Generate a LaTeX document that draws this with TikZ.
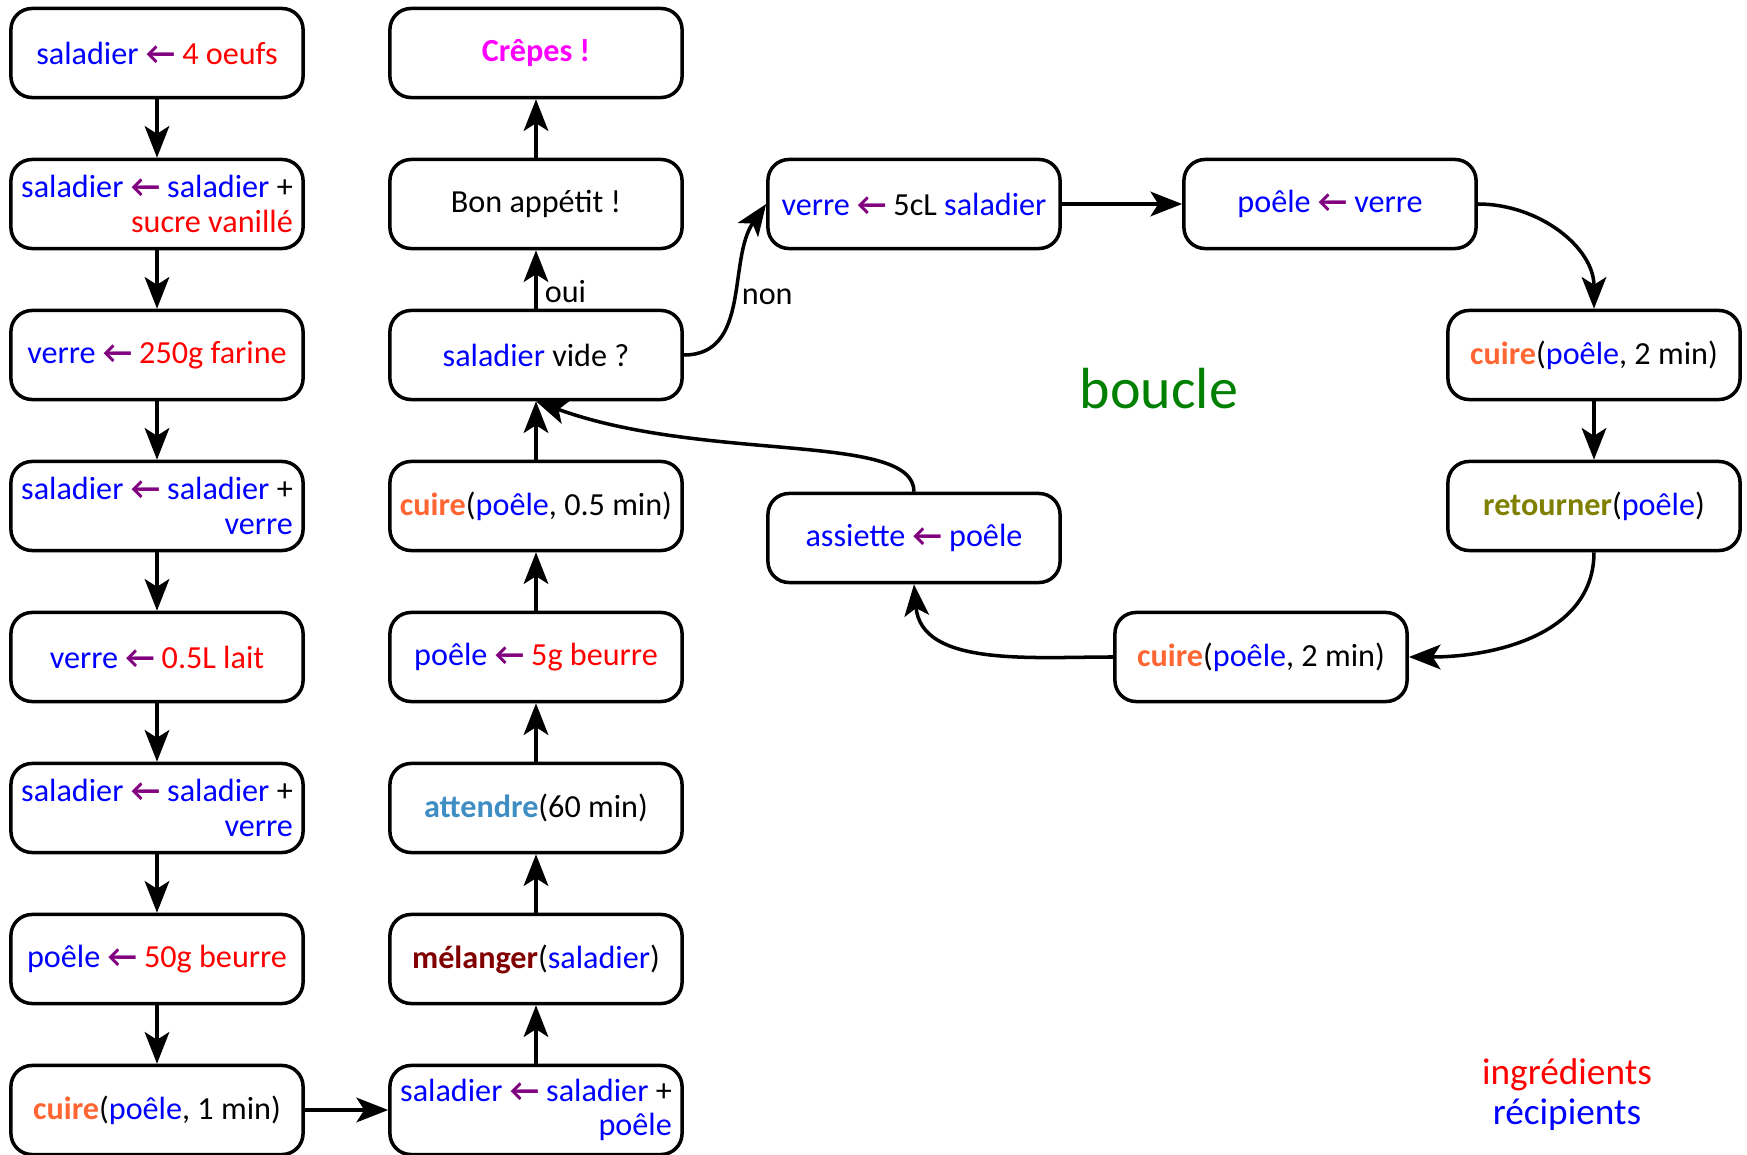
\documentclass[tikz,border=0pt]{standalone}
\usepackage{fontspec}
\setmainfont{Carlito}
\usepackage{xcolor}
\usetikzlibrary{arrows.meta}

\definecolor{recip}{RGB}{0,0,255}
\definecolor{ingr}{RGB}{255,0,0}
\definecolor{violet}{RGB}{128,0,128}
\definecolor{orangecuire}{RGB}{255,102,51}
\definecolor{bleuattendre}{RGB}{62,142,196}
\definecolor{rougemelanger}{RGB}{128,0,0}
\definecolor{olive}{RGB}{128,128,0}
\definecolor{vertboucle}{RGB}{0,128,0}
\definecolor{rosecrepes}{RGB}{255,0,255}

\newcommand{\recip}[1]{\textcolor{recip}{#1}}
\newcommand{\ingr}[1]{\textcolor{ingr}{#1}}
\newcommand{\fl}{\textcolor{violet}{\textbf{←}}}
\newcommand{\cuire}{\textcolor{orangecuire}{\textbf{cuire}}}

\tikzset{
  boite/.style={draw, line width=1pt, rounded corners=6pt, minimum width=2.92cm,
    minimum height=0.89cm, align=right, inner sep=2pt},
  fleche/.style={-{Stealth[length=9pt,width=7pt,inset=2.2pt]}, line width=1pt}
}

\begin{document}
\begin{tikzpicture}[x=0.01cm, y=0.01cm, font=\fontsize{9.15}{9.8}\selectfont]
          \useasboundingbox (0,0) rectangle (1747,-1155);

          % premiere colonne
          \node[boite] (a1) at (157,-53) {\recip{saladier} \fl{} \ingr{4 oeufs}};
          \node[boite] (a2) at (157,-204) {\recip{saladier} \fl{} \recip{saladier} +\\\ingr{sucre vanillé}};
          \node[boite] (a3) at (157,-355) {\recip{verre} \fl{} \ingr{250g farine}};
          \node[boite] (a4) at (157,-506) {\recip{saladier} \fl{} \recip{saladier} +\\\recip{verre}};
          \node[boite] (a5) at (157,-657) {\recip{verre} \fl{} \ingr{0.5L lait}};
          \node[boite] (a6) at (157,-808) {\recip{saladier} \fl{} \recip{saladier} +\\\recip{verre}};
          \node[boite] (a7) at (157,-959) {\recip{poêle} \fl{} \ingr{50g beurre}};
          \node[boite] (a8) at (157,-1110) {\cuire(\recip{poêle}, 1 min)};

          % deuxieme colonne (de bas en haut)
          \node[boite] (b1) at (536,-1110) {\recip{saladier} \fl{} \recip{saladier} +\\\recip{poêle}};
          \node[boite] (b2) at (536,-959) {\textcolor{rougemelanger}{\textbf{mélanger}}(\recip{saladier})};
          \node[boite] (b3) at (536,-808) {\textcolor{bleuattendre}{\textbf{attendre}}(60 min)};
          \node[boite] (b4) at (536,-657) {\recip{poêle} \fl{} \ingr{5g beurre}};
          \node[boite] (b5) at (536,-506) {\cuire(\recip{poêle}, 0.5 min)};
          \node[boite] (b6) at (536,-355) {\recip{saladier} vide ?};
          \node[boite] (b7) at (536,-204) {Bon appétit !};
          \node[boite] (b8) at (536,-53) {\textcolor{rosecrepes}{\textbf{Crêpes !}}};

          % la boucle
          \node[boite] (l1) at (914,-204) {\recip{verre} \fl{} 5cL \recip{saladier}};
          \node[boite] (l2) at (1330,-204) {\recip{poêle} \fl{} \recip{verre}};
          \node[boite] (l3) at (1594,-355) {\cuire(\recip{poêle}, 2 min)};
          \node[boite] (l4) at (1594,-506) {\textcolor{olive}{\textbf{retourner}}(\recip{poêle})};
          \node[boite] (l5) at (1261,-657) {\cuire(\recip{poêle}, 2 min)};
          \node[boite] (l6) at (914,-538) {\recip{assiette} \fl{} \recip{poêle}};

          \foreach \a/\b in {a1/a2, a2/a3, a3/a4, a4/a5, a5/a6, a6/a7, a7/a8,
            b1/b2, b2/b3, b3/b4, b4/b5, b5/b6, b7/b8, a8/b1, l1/l2, l3/l4} {
              \draw[fleche] (\a) -- (\b);
          }
          \draw[fleche] (b6) -- node[pos=0.3, right, inner sep=2pt] {oui} (b7);
          \draw[fleche] (b6.east) to[out=0, in=235] node[pos=0.52, right, inner sep=1pt] {non} (l1.west);
          \draw[fleche] (l2.east) to[out=0, in=90] (l3.north);
          \draw[fleche] (l4.south) to[out=-90, in=0] (l5.east);
          \draw[fleche] (l5.west) to[out=180, in=-85] (l6.south);
          \draw[fleche] (l6.north) to[out=90, in=-20, out distance=0.6cm, in distance=1.8cm] (b6.south);

          \node[text=vertboucle, font=\fontsize{16.5}{18}\selectfont] (boucle) at (1159,-389) {boucle};
          \node[align=center, font=\fontsize{10.6}{11.4}\selectfont] (legende) at (1567,-1095) {\ingr{ingrédients}\\\recip{récipients}};
      \end{tikzpicture}
\end{document}
